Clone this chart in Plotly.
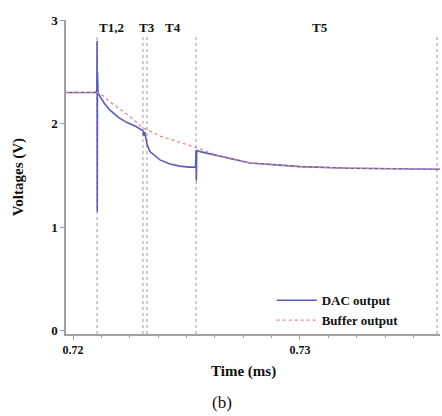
import plotly.graph_objects as go

# Time (ms) and voltage (V) readings
dac_t = [0.71969, 0.72100, 0.721050, 0.721060, 0.721068, 0.721076, 0.721100, 0.72125, 0.72140, 0.72163,
         0.72200, 0.72238, 0.72280, 0.723084, 0.72312, 0.72316, 0.72326, 0.72339, 0.72383, 0.72427,
         0.72471, 0.72510, 0.725400, 0.725420, 0.725435, 0.725450, 0.72560, 0.72580, 0.72604, 0.72670,
         0.72780, 0.72912, 0.73000, 0.73220, 0.73617]
dac_v = [2.30, 2.30, 2.32, 2.80, 1.15, 2.50, 2.30, 2.24, 2.19, 2.13,
         2.06, 2.01, 1.97, 1.93, 1.88, 1.92, 1.80, 1.73, 1.65, 1.61,
         1.59, 1.58, 1.58, 1.74, 1.45, 1.74, 1.73, 1.72, 1.71, 1.67,
         1.62, 1.60, 1.585, 1.57, 1.56]

buf_t = [0.71969, 0.72000, 0.721057, 0.72132, 0.72163, 0.72238, 0.723084, 0.72383, 0.72471,
         0.725419, 0.72604, 0.72670, 0.72780, 0.72912, 0.73000, 0.73220, 0.73617]
buf_v = [2.30, 2.30, 2.30, 2.27, 2.21, 2.09, 1.96, 1.88, 1.82,
         1.77, 1.72, 1.67, 1.62, 1.60, 1.585, 1.57, 1.56]

phase_t = [0.72106, 0.72308, 0.72326, 0.72542, 0.73604]
phase_labels = ["T1,2", "T3", "T4", "T5"]
phase_label_t = [0.72171, 0.72324, 0.72440, 0.73088]

SERIF = "Liberation Serif"

fig = go.Figure()
fig.add_trace(go.Scatter(x=dac_t, y=dac_v, mode="lines", name="<b>DAC output</b>",
                         line=dict(color="#5a5ac0", width=1.6)))
fig.add_trace(go.Scatter(x=buf_t, y=buf_v, mode="lines", name="<b>Buffer output</b>",
                         line=dict(color="#e08a8a", width=1.3, dash="dot")))

for t in phase_t:
    fig.add_shape(type="line", x0=t, x1=t, y0=-0.03, y1=2.84, xref="x", yref="y",
                  line=dict(color="#9a9a9a", width=1, dash="dot"), layer="below")

for lab, t in zip(phase_labels, phase_label_t):
    fig.add_annotation(x=t, y=2.93, xref="x", yref="y", text="<b>%s</b>" % lab,
                       showarrow=False, font=dict(family=SERIF, size=13, color="#111"))

# x-axis title and figure caption placed in pixel-equivalent paper coords
fig.add_annotation(x=0.474, y=-0.118, xref="paper", yref="paper", text="<b>Time (ms)</b>",
                   showarrow=False, xanchor="center", yanchor="middle",
                   font=dict(family=SERIF, size=15, color="#111"))
fig.add_annotation(x=0.416, y=-0.218, xref="paper", yref="paper", text="(b)", showarrow=False,
                   xanchor="center", yanchor="middle",
                   font=dict(family=SERIF, size=17, color="#111"))
fig.add_annotation(x=-0.128, y=0.5, xref="paper", yref="paper", text="<b>Voltages (V)</b>",
                   showarrow=False, textangle=-90, xanchor="center", yanchor="middle",
                   font=dict(family=SERIF, size=15, color="#111"))

axis_font = dict(family=SERIF, size=12, color="#111")
fig.update_layout(
    width=442, height=416,
    margin=dict(l=66, r=2, t=20, b=82, autoexpand=False),
    paper_bgcolor="white", plot_bgcolor="white",
    showlegend=True,
    legend=dict(x=0.55, y=0.155, xanchor="left", yanchor="top", bgcolor="rgba(0,0,0,0)",
                font=dict(family=SERIF, size=13, color="#111"),
                tracegroupgap=0, itemwidth=40),
    font=dict(family=SERIF),
)
fig.update_xaxes(range=[0.71969, 0.73617], showline=True, linecolor="#a0a0a0", linewidth=1.5,
                 showgrid=False, zeroline=False, tickmode="array", tickvals=[0.72, 0.73],
                 ticktext=["<b>0.72</b>", "<b>0.73</b>"], ticks="outside", ticklen=4,
                 tickcolor="#a0a0a0", tickfont=axis_font, automargin=False,
                 minor=dict(tick0=0.72, dtick=0.00125, ticks="outside", ticklen=2, tickcolor="#a0a0a0"))
fig.update_yaxes(range=[-0.03, 3.0], showline=True, linecolor="#a0a0a0", linewidth=1.5,
                 showgrid=False, zeroline=False, tickmode="array", tickvals=[0, 1, 2, 3],
                 ticktext=["<b>0</b>", "<b>1</b>", "<b>2</b>", "<b>3</b>"], ticks="outside", ticklen=4,
                 tickcolor="#a0a0a0", tickfont=dict(family=SERIF, size=13, color="#111"), automargin=False)

fig.write_html("out.html", config={"displayModeBar": False},
               post_script="document.body.style.margin='0px';document.body.style.overflow='hidden';")
